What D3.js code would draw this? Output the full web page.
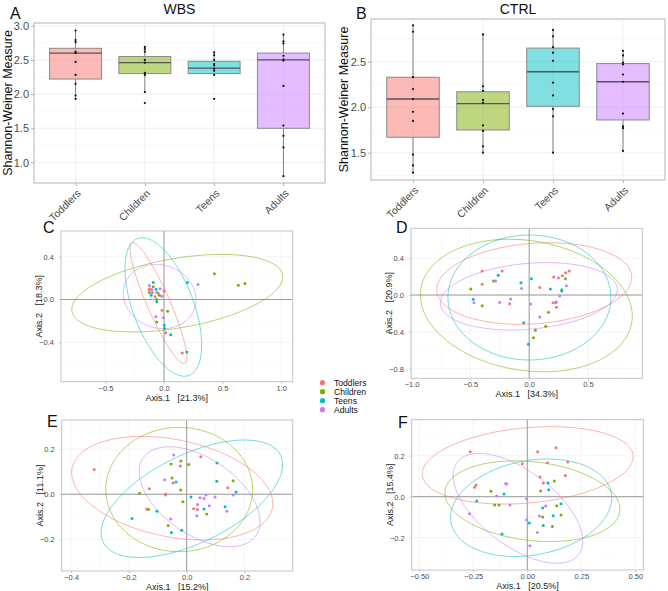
<!DOCTYPE html>
<html><head><meta charset="utf-8">
<script src="https://cdn.jsdelivr.net/npm/d3@7"></script>
<style>body{margin:0;background:#fff} svg{display:block;font-family:"Liberation Sans",Arial,sans-serif}</style>
</head><body><svg id="c" width="668" height="591"></svg>
<script>
// ---------- DATA ----------
const categories = ["Toddlers", "Children", "Teens", "Adults"];
const groupColors = ["#F8766D", "#7CAE00", "#00BFC4", "#C77CFF"];

// Panel A (WBS) box statistics, per category
const wbsQ1  = [2.22, 2.30, 2.30, 1.50];
const wbsMed = [2.60, 2.46, 2.38, 2.50];
const wbsQ3  = [2.67, 2.55, 2.48, 2.60];
const wbsLo  = [1.93, 2.03, 2.28, 0.80];
const wbsHi  = [2.93, 2.69, 2.61, 2.87];
const wbsPoints = [
  [2.93, 2.79, 2.76, 2.62, 2.60, 2.47, 2.28, 2.15, 1.98, 1.93],
  [2.69, 2.66, 2.62, 2.50, 2.46, 2.31, 2.28, 2.03, 1.87],
  [2.61, 2.57, 2.50, 2.44, 2.42, 2.37, 2.34, 2.28, 1.93],
  [2.87, 2.77, 2.74, 2.56, 2.51, 2.49, 2.12, 1.54, 1.39, 1.22, 0.80]
];
const wbsTicks = [1.0, 1.5, 2.0, 2.5, 3.0];

// Panel B (CTRL)
const ctrlQ1  = [1.67, 1.75, 2.01, 1.86];
const ctrlMed = [2.09, 2.04, 2.39, 2.28];
const ctrlQ3  = [2.33, 2.17, 2.65, 2.48];
const ctrlLo  = [1.28, 1.50, 1.50, 1.52];
const ctrlHi  = [2.90, 2.80, 2.85, 2.62];
const ctrlPoints = [
  [2.90, 2.83, 2.33, 2.20, 2.09, 1.95, 1.85, 1.48, 1.36, 1.28],
  [2.80, 2.23, 2.18, 2.08, 2.05, 1.80, 1.74, 1.57, 1.50],
  [2.85, 2.78, 2.66, 2.60, 2.51, 2.27, 2.13, 1.98, 1.90, 1.50],
  [2.62, 2.57, 2.49, 2.47, 2.36, 2.28, 1.93, 1.79, 1.77, 1.52]
];
const ctrlTicks = [1.5, 2.0, 2.5];

// PCoA panels: points per group [Axis.1, Axis.2]; order = categories
const pcoaC = [
  [[0.0,0.08],[-0.017,-0.10],[0.014,-0.31],[0.156,-0.50],[-0.12,0.10],[-0.10,0.065],[-0.077,0.025],[-0.128,0.09],[-0.05,0.06]],
  [[0.43,0.24],[0.634,0.134],[0.69,0.15],[0.031,-0.11],[-0.062,-0.21],[-0.062,0.0],[-0.125,0.065],[-0.092,0.12],[-0.04,0.04]],
  [[0.2,0.16],[0.195,-0.49],[0.057,-0.33],[0.003,-0.24],[0.005,-0.27],[-0.092,0.16],[-0.062,-0.02],[-0.11,0.04],[-0.068,0.095]],
  [[0.29,0.14],[-0.006,-0.17],[-0.07,-0.16],[-0.034,0.1],[-0.125,0.13],[-0.062,0.065],[-0.105,0.09],[-0.02,0.03]]
];
const pcoaD = [
  [[-0.40,0.26],[-0.40,0.116],[-0.23,0.26],[-0.166,-0.094],[0.09,0.083],[0.209,0.196],[0.283,0.21],[0.311,0.243],[0.34,0.26],[0.203,-0.083],[0.232,-0.134]],
  [[-0.496,0.065],[-0.40,-0.116],[-0.303,0.152],[0.164,-0.188],[0.141,-0.34],[0.053,-0.384],[0.036,-0.464],[0.277,0.058],[0.308,0.177]],
  [[-0.476,-0.047],[-0.263,0.214],[-0.07,0.134],[0.019,0.177],[0.18,0.065],[0.277,0.043],[0.229,-0.076],[-0.047,-0.3],[-0.007,-0.536]],
  [[-0.47,-0.083],[-0.286,0.152],[-0.251,-0.08],[-0.158,-0.043],[-0.064,0.072],[0.013,-0.098],[0.09,-0.239],[0.249,0.185],[0.26,-0.011],[0.317,0.101],[0.226,-0.083]]
];
const pcoaE = [
  [[-0.32,0.11],[-0.129,0.025],[-0.073,0.001],[-0.073,-0.003],[-0.047,0.05],[-0.022,0.126],[0.049,0.167],[0.024,-0.064],[0.037,-0.068],[0.142,0.029],[-0.138,-0.065]],
  [[-0.163,0.004],[-0.132,-0.068],[-0.054,0.135],[-0.051,0.072],[-0.02,0.148],[0.007,0.132],[-0.021,0.019],[-0.013,-0.033],[0.069,-0.088],[0.161,0.06],[-0.064,-0.139]],
  [[-0.189,-0.108],[-0.103,-0.076],[-0.037,0.055],[-0.017,-0.16],[-0.053,-0.17],[0.015,-0.012],[0.06,-0.065],[0.104,0.058],[0.105,0.139],[0.133,-0.056],[0.171,0.01]],
  [[-0.045,0.175],[-0.076,0.065],[-0.055,-0.11],[0.035,-0.095],[0.038,-0.046],[0.046,-0.016],[0.06,-0.019],[0.067,-0.003],[0.078,-0.051],[0.098,-0.012],[0.139,-0.076],[0.161,-0.003]]
];
const pcoaF = [
  [[-0.264,0.22],[-0.237,0.057],[-0.244,0.046],[-0.023,0.161],[0.048,0.22],[0.093,0.166],[0.059,0.096],[0.074,0.067],[0.133,0.239],[0.176,0.104],[0.187,0.169]],
  [[-0.168,0.026],[-0.151,-0.04],[-0.131,-0.04],[0.062,0.028],[0.125,0.077],[0.136,-0.044],[0.071,-0.099],[0.116,-0.145],[0.156,-0.089]],
  [[-0.234,-0.021],[-0.108,0.013],[-0.117,-0.182],[0.009,-0.128],[0.071,-0.055],[0.096,0.067],[0.099,0.034],[0.12,-0.093],[0.074,-0.141],[0.156,-0.034]],
  [[-0.267,-0.083],[-0.142,0.003],[-0.1,0.065],[-0.095,0.062],[-0.08,-0.04],[-0.003,-0.01],[-0.003,-0.112],[0.056,-0.094],[0.085,-0.045],[0.046,-0.175],[0.012,-0.239]]
];

// Confidence ellipses per group: [centre x, centre y, half-width, half-height, tilt (sin of phase)]
const ellC = [[-0.048,-0.033,0.242,0.565,-0.9],[0.113,0.059,0.900,0.362,0.42],[-0.006,-0.070,0.327,0.647,-0.55],[-0.037,0.028,0.31,0.30,-0.1]];
const ellD = [[0.043,0.125,0.829,0.443,0.15],[-0.024,-0.114,0.901,0.72,-0.16],[0.002,-0.027,0.693,0.679,0.0],[-0.003,-0.014,0.752,0.366,0.2]];
const ellE = [[-0.05,0.027,0.348,0.23,-0.3],[-0.026,0.021,0.254,0.276,0.0],[0.018,-0.02,0.314,0.261,0.58],[0.045,-0.011,0.209,0.222,-0.5]];
const ellF = [[0.002,0.153,0.488,0.189,0.22],[0.024,-0.022,0.405,0.197,-0.2],[0.018,-0.054,0.373,0.238,0.2],[-0.043,-0.057,0.3,0.268,-0.6]];

const axisPct = {C:["21.3%","18.3%"], D:["34.3%","20.9%"], E:["15.2%","11.1%"], F:["20.5%","15.4%"]};
const ticksC = {x:[-0.5,0,0.5,1.0], y:[-0.4,0,0.4]};
const ticksD = {x:[-1.0,-0.5,0,0.5], y:[-0.8,-0.4,0,0.4]};
const ticksE = {x:[-0.4,-0.2,0,0.2], y:[-0.2,0,0.2]};
const ticksF = {x:[-0.5,-0.25,0,0.25,0.5], y:[-0.2,0,0.2]};

// ---------- DRAWING ----------
const svg = d3.select("#c");
svg.append("rect").attr("width",668).attr("height",591).attr("fill","#fff");

function boxPanel(o) {
  const g = svg.append("g");
  const x = d3.scalePoint().domain(categories).range([o.x0, o.x1]).padding(0.6);
  const y = d3.scaleLinear().domain(o.yDom).range([o.y1, o.y0]);
  const step = x.step();
  const minor = [];
  for (let i = 0; i < o.ticks.length - 1; i++) minor.push((o.ticks[i] + o.ticks[i+1]) / 2);
  if (o.ticks[0] - 0.25 > o.yDom[0]) minor.push(o.ticks[0] - 0.25);
  if (o.ticks[o.ticks.length-1] + 0.25 < o.yDom[1]) minor.push(o.ticks[o.ticks.length-1] + 0.25);
  g.selectAll(".mn").data(minor).join("line").attr("x1",o.x0).attr("x2",o.x1)
    .attr("y1",d=>y(d)).attr("y2",d=>y(d)).attr("stroke","#f5f5f5").attr("stroke-width",0.6);
  g.selectAll(".mj").data(o.ticks).join("line").attr("x1",o.x0).attr("x2",o.x1)
    .attr("y1",d=>y(d)).attr("y2",d=>y(d)).attr("stroke","#ebebeb").attr("stroke-width",0.8);
  g.selectAll(".vg").data(categories).join("line").attr("x1",d=>x(d)).attr("x2",d=>x(d))
    .attr("y1",o.y0).attr("y2",o.y1).attr("stroke","#ebebeb").attr("stroke-width",0.8);
  categories.forEach((c, i) => {
    const cx = x(c), w = step * 0.75;
    g.append("line").attr("x1",cx).attr("x2",cx).attr("y1",y(o.hi[i])).attr("y2",y(o.q3[i]))
      .attr("stroke","#666").attr("stroke-width",0.8);
    g.append("line").attr("x1",cx).attr("x2",cx).attr("y1",y(o.q1[i])).attr("y2",y(o.lo[i]))
      .attr("stroke","#666").attr("stroke-width",0.8);
    g.append("rect").attr("x",cx - w/2).attr("width",w).attr("y",y(o.q3[i]))
      .attr("height",y(o.q1[i]) - y(o.q3[i])).attr("fill",groupColors[i]).attr("fill-opacity",0.5)
      .attr("stroke","#8a8a8a").attr("stroke-width",1);
    g.append("line").attr("x1",cx - w/2).attr("x2",cx + w/2).attr("y1",y(o.med[i])).attr("y2",y(o.med[i]))
      .attr("stroke","#555").attr("stroke-width",1.4);
    g.selectAll(null).data(o.points[i]).join("circle").attr("cx",cx).attr("cy",d=>y(d))
      .attr("r",1.1).attr("fill","#111");
  });
  g.append("rect").attr("x",o.x0).attr("y",o.y0).attr("width",o.x1-o.x0).attr("height",o.y1-o.y0)
    .attr("fill","none").attr("stroke","#b3b3b3").attr("stroke-width",1);
  const ya = g.append("g").attr("transform",`translate(${o.x0},0)`)
    .call(d3.axisLeft(y).tickValues(o.ticks).tickFormat(d3.format(".1f")).tickSize(3).tickPadding(2));
  ya.select(".domain").remove();
  ya.selectAll(".tick line").attr("stroke","#b3b3b3");
  ya.selectAll(".tick text").attr("fill","#4d4d4d").style("font-size","11px").style("font-family","Liberation Sans, Arial");
  const xa = g.append("g").attr("transform",`translate(0,${o.y1})`)
    .call(d3.axisBottom(x).tickSize(3).tickFormat(""));
  xa.select(".domain").remove();
  xa.selectAll(".tick line").attr("stroke","#b3b3b3");
  categories.forEach(c => {
    g.append("text").attr("transform",`translate(${x(c)+6},${o.y1+11}) rotate(-45)`)
      .attr("text-anchor","end").attr("fill","#4d4d4d").style("font-size","10.5px").text(c);
  });
  g.append("text").attr("x",(o.x0+o.x1)/2).attr("y",o.titleY).attr("text-anchor","middle")
    .style("font-size","14px").attr("fill","#111").text(o.title);
  g.append("text").attr("x",o.letterX).attr("y",19).style("font-size","16px").attr("fill","#111").text(o.letter);
  g.append("text").attr("transform",`translate(${o.ylabX},${(o.y0+o.y1)/2}) rotate(-90)`)
    .attr("text-anchor","middle").style("font-size","12.5px").attr("fill","#111").text("Shannon-Weiner Measure");
}

boxPanel({x0:34, x1:325, y0:23, y1:183, yDom:[0.70,3.04], ticks:wbsTicks,
  q1:wbsQ1, med:wbsMed, q3:wbsQ3, lo:wbsLo, hi:wbsHi, points:wbsPoints,
  title:"WBS", titleY:13.5, letter:"A", letterX:10, ylabX:12});
boxPanel({x0:371, x1:665, y0:19, y1:180, yDom:[1.20,2.97], ticks:ctrlTicks,
  q1:ctrlQ1, med:ctrlMed, q3:ctrlQ3, lo:ctrlLo, hi:ctrlHi, points:ctrlPoints,
  title:"CTRL", titleY:13.5, letter:"B", letterX:356, ylabX:348});

function scatterPanel(o) {
  const g = svg.append("g");
  const x = d3.scaleLinear().domain(o.xDom).range([o.x0, o.x1]);
  const y = d3.scaleLinear().domain(o.yDom).range([o.y1, o.y0]);
  const clipId = "clip" + o.letter;
  g.append("clipPath").attr("id",clipId).append("rect")
    .attr("x",o.x0).attr("y",o.y0).attr("width",o.x1-o.x0).attr("height",o.y1-o.y0);
  const xs = o.ticks.x, ys = o.ticks.y;
  const dx = xs[1]-xs[0], dy = ys[1]-ys[0];
  const xMinor = d3.range(xs[0]-dx/2, o.xDom[1], dx).filter(v => v > o.xDom[0]);
  const yMinor = d3.range(ys[0]-dy/2, o.yDom[1], dy).filter(v => v > o.yDom[0]);
  g.selectAll(".xm").data(xMinor).join("line").attr("x1",d=>x(d)).attr("x2",d=>x(d))
    .attr("y1",o.y0).attr("y2",o.y1).attr("stroke","#f6f6f6").attr("stroke-width",0.5);
  g.selectAll(".ym").data(yMinor).join("line").attr("y1",d=>y(d)).attr("y2",d=>y(d))
    .attr("x1",o.x0).attr("x2",o.x1).attr("stroke","#f6f6f6").attr("stroke-width",0.5);
  g.selectAll(".xg").data(xs).join("line").attr("x1",d=>x(d)).attr("x2",d=>x(d))
    .attr("y1",o.y0).attr("y2",o.y1).attr("stroke","#efefef").attr("stroke-width",0.7);
  g.selectAll(".yg").data(ys).join("line").attr("y1",d=>y(d)).attr("y2",d=>y(d))
    .attr("x1",o.x0).attr("x2",o.x1).attr("stroke","#efefef").attr("stroke-width",0.7);
  g.append("line").attr("x1",x(0)).attr("x2",x(0)).attr("y1",o.y0).attr("y2",o.y1).attr("stroke","#9a9a9a").attr("stroke-width",1);
  g.append("line").attr("y1",y(0)).attr("y2",y(0)).attr("x1",o.x0).attr("x2",o.x1).attr("stroke","#9a9a9a").attr("stroke-width",1);
  const line = d3.line().x(d=>x(d[0])).y(d=>y(d[1])).curve(d3.curveLinearClosed);
  const tt = d3.range(0, 2*Math.PI, Math.PI/90);
  const eg = g.append("g").attr("clip-path",`url(#${clipId})`);
  o.ell.forEach((e, i) => {
    const ph = Math.asin(e[4]);
    const pts = tt.map(t => [e[0] + e[2]*Math.cos(t), e[1] + e[3]*Math.sin(t + ph)]);
    eg.append("path").attr("d", line(pts)).attr("fill","none").attr("stroke",groupColors[i])
      .attr("stroke-opacity",0.55).attr("stroke-width",1);
  });
  o.pts.forEach((grp, i) => {
    g.selectAll(null).data(grp).join("circle").attr("cx",d=>x(d[0])).attr("cy",d=>y(d[1]))
      .attr("r",1.5).attr("fill",groupColors[i]);
  });
  g.append("rect").attr("x",o.x0).attr("y",o.y0).attr("width",o.x1-o.x0).attr("height",o.y1-o.y0)
    .attr("fill","none").attr("stroke","#c4c4c4").attr("stroke-width",1);
  const xa = g.append("g").attr("transform",`translate(0,${o.y1})`)
    .call(d3.axisBottom(x).tickValues(xs).tickFormat(o.fmt).tickSize(2).tickPadding(1.5));
  xa.select(".domain").remove();
  xa.selectAll(".tick line").attr("stroke","#c4c4c4");
  xa.selectAll(".tick text").attr("fill","#4d4d4d").style("font-size","7.5px").style("font-family","Liberation Sans, Arial");
  const ya = g.append("g").attr("transform",`translate(${o.x0},0)`)
    .call(d3.axisLeft(y).tickValues(ys).tickFormat(d3.format(".1f")).tickSize(2).tickPadding(5));
  ya.select(".domain").remove();
  ya.selectAll(".tick line").attr("stroke","#c4c4c4");
  ya.selectAll(".tick text").attr("fill","#4d4d4d").style("font-size","7.5px").style("font-family","Liberation Sans, Arial");
  g.append("text").attr("x",(o.x0+o.x1)/2).attr("y",o.y1+19).attr("text-anchor","middle")
    .style("font-size","9px").attr("fill","#222")
    .text("Axis.1\u00a0\u00a0\u00a0[" + o.pct[0] + "]");
  g.append("text").attr("transform",`translate(${o.x0-19},${(o.y0+o.y1)/2}) rotate(-90)`)
    .attr("text-anchor","middle").style("font-size","9px").attr("fill","#222")
    .text("Axis.2\u00a0\u00a0\u00a0[" + o.pct[1] + "]");
  g.append("text").attr("x",o.letterX).attr("y",o.letterY).style("font-size","16px").attr("fill","#111").text(o.letter);
}

const f1 = d3.format(".1f"), f2 = d3.format(".2f");
scatterPanel({letter:"C", x0:61, x1:292.7, y0:231, y1:381.7, xDom:[-0.879,1.098], yDom:[-0.768,0.64],
  ticks:ticksC, pts:pcoaC, ell:ellC, pct:axisPct.C, fmt:f1, letterX:43, letterY:233});
scatterPanel({letter:"D", x0:411, x1:642.3, y0:228.3, y1:378.3, xDom:[-1.005,0.962], yDom:[-0.905,0.725],
  ticks:ticksD, pts:pcoaD, ell:ellD, pct:axisPct.D, fmt:f1, letterX:396, letterY:233});
scatterPanel({letter:"E", x0:61.7, x1:292.7, y0:420, y1:571, xDom:[-0.4325,0.367], yDom:[-0.341,0.33],
  ticks:ticksE, pts:pcoaE, ell:ellE, pct:axisPct.E, fmt:f1, letterX:47, letterY:427});
scatterPanel({letter:"F", x0:411.7, x1:643.3, y0:419.7, y1:570, xDom:[-0.535,0.537], yDom:[-0.358,0.376],
  ticks:ticksF, pts:pcoaF, ell:ellF, pct:axisPct.F, fmt:f2, letterX:398, letterY:428});

const lg = svg.append("g");
const ly = d3.scalePoint().domain(categories).range([382.7, 409.7]);
categories.forEach((c, i) => {
  lg.append("circle").attr("cx",322.5).attr("cy",ly(c)).attr("r",2.6).attr("fill",groupColors[i]);
  lg.append("text").attr("x",334).attr("y",ly(c)).attr("dy","0.36em").style("font-size","8.6px").attr("fill","#111").text(c);
});
</script></body></html>
